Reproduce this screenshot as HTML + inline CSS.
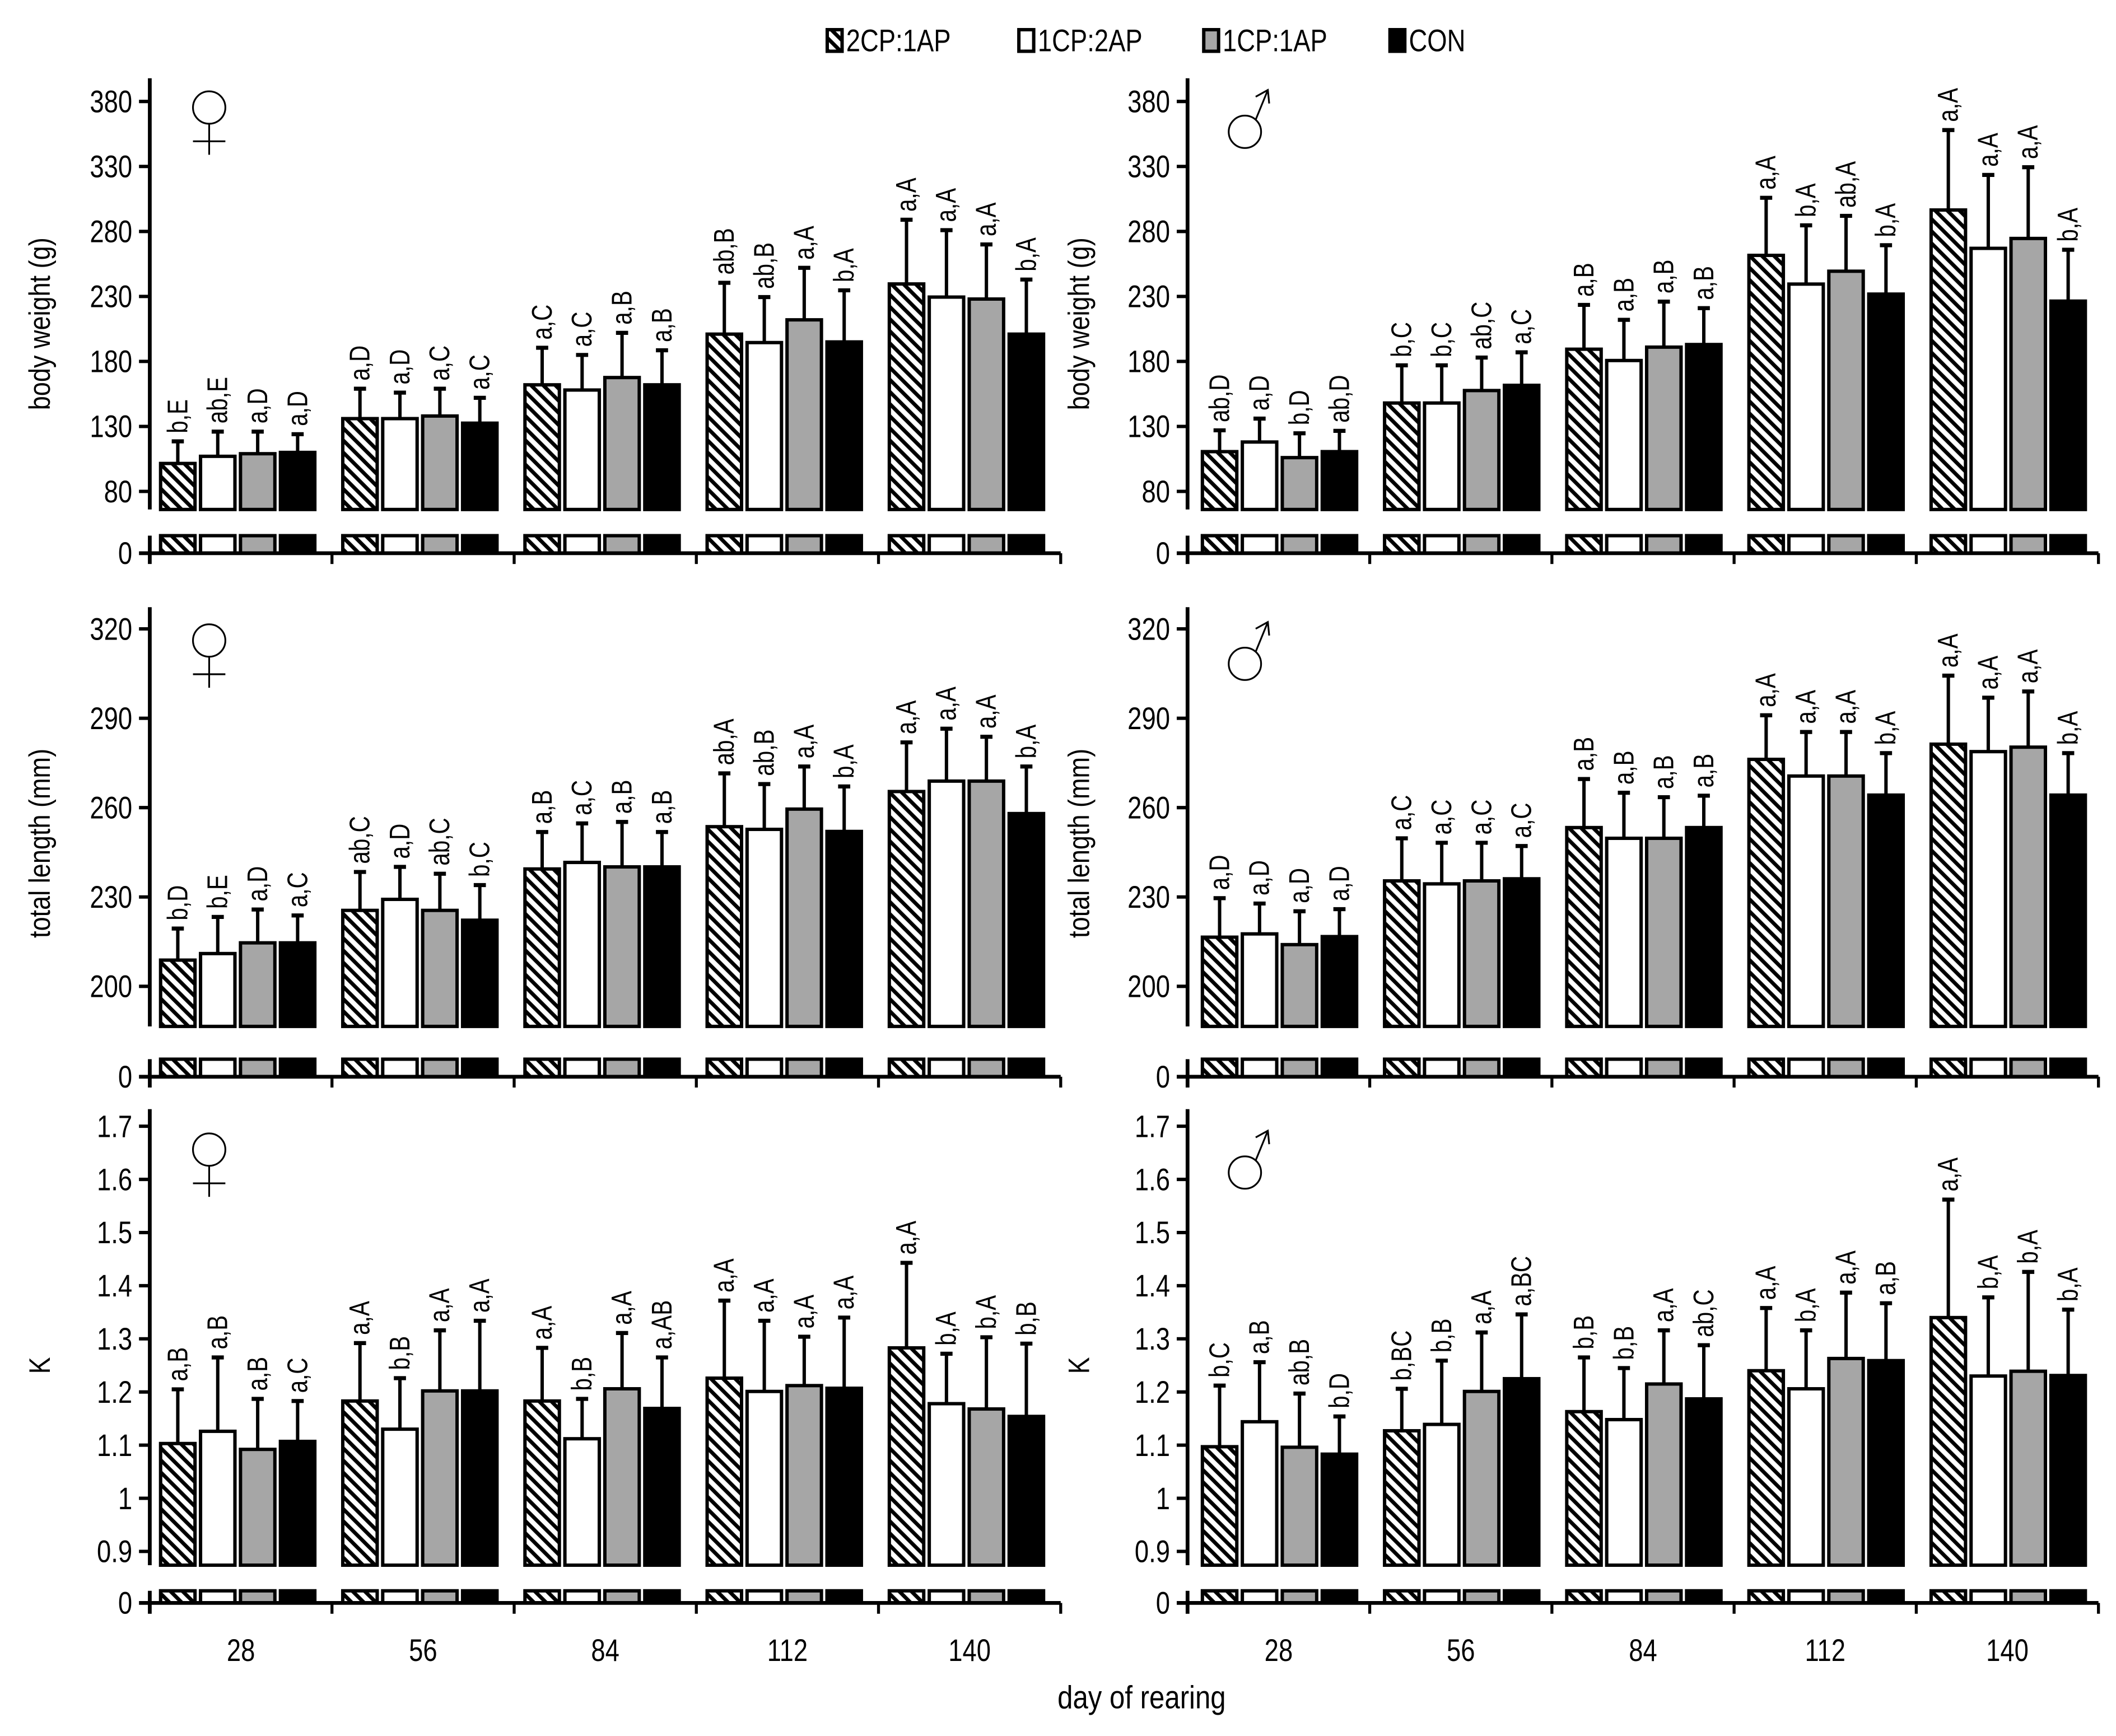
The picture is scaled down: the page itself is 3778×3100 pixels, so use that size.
<!DOCTYPE html>
<html><head><meta charset="utf-8"><title>Growth chart</title>
<style>
html,body{margin:0;padding:0;background:#fff;}
svg{display:block;}
text{font-family:"Liberation Sans",sans-serif;fill:#000;}
</style></head>
<body>
<svg id="chart" width="3778" height="3100" viewBox="0 0 1568 1286.6" preserveAspectRatio="none" xmlns="http://www.w3.org/2000/svg">
<defs>
<pattern id="hatch" patternUnits="userSpaceOnUse" width="9" height="9">
<rect width="9" height="9" fill="#fff"/>
<path d="M-3,-3 L12,12 M-3,6 L3,12 M6,-3 L12,3" stroke="#000" stroke-width="2.8"/>
</pattern>
</defs>
<g id="legend"></g>
<g id="plots"></g>
<text transform="translate(846,1266) scale(0.85,1)" font-size="24" text-anchor="middle">day of rearing</text>
</svg>
<script>
const groups=['28','56','84','112','140'];
const series=['2CP:1AP','1CP:2AP','1CP:1AP','CON'];

const bwF_mean=[[101.5,107,109,110],[136,136,138,132.5],[162,158,167.6,162],[201,194.5,212,195],[239.6,229.5,228,201]];
const bwF_sd=[[17,19,17,14],[23,20,21,19.5],[28.5,27,34.4,26.6],[39.5,35,40,39.7],[49.4,51.5,42,42]];
const bwF_lab=[['b,E','ab,E','a,D','a,D'],['a,D','a,D','a,C','a,C'],['a,C','a,C','a,B','a,B'],['ab,B','ab,B','a,A','b,A'],['a,A','a,A','a,A','b,A']];

const bwM_mean=[[110.6,118,106,110.6],[148,148,157.6,161.6],[189.4,180.7,191,193],[261.6,239.5,249.4,231.8],[296.5,267,274.6,226.4]];
const bwM_sd=[[16.4,18,18.7,16],[29,29,25.4,25.4],[34.1,31.3,35,28],[44.3,45.2,42.6,37.6],[61.5,56.5,54.8,39.5]];
const bwM_lab=[['ab,D','a,D','b,D','ab,D'],['b,C','b,C','ab,C','a,C'],['a,B','a,B','a,B','a,B'],['a,A','b,A','ab,A','b,A'],['a,A','a,A','a,A','b,A']];

const tlF_mean=[[208.8,211,214.6,214.6],[225.5,229.2,225.5,222.2],[239.4,241.6,240.1,240.1],[253.6,252.7,259.5,252],[265.4,268.9,268.9,258]];
const tlF_sd=[[10.6,12.3,11.2,9.2],[12.9,10.9,12.3,11.8],[12.4,13.1,15.1,11.7],[17.9,15.2,14.3,15.1],[16.5,17.6,14.9,15.8]];
const tlF_lab=[['b,D','b,E','a,D','a,C'],['ab,C','a,D','ab,C','b,C'],['a,B','a,C','a,B','a,B'],['ab,A','ab,B','a,A','b,A'],['a,A','a,A','a,A','b,A']];

const tlM_mean=[[216.5,217.6,214,216.7],[235.4,234.4,235.4,236.1],[253.3,249.7,249.7,253.3],[276.2,270.6,270.6,264.2],[281.3,278.8,280.3,264.2]];
const tlM_sd=[[13.1,10.2,11.2,9.2],[14.3,13.8,12.8,11],[16.3,15.3,13.8,10.7],[14.8,14.8,14.8,14.1],[23,18.1,18.7,14.1]];
const tlM_lab=[['a,D','a,D','a,D','a,D'],['a,C','a,C','a,C','a,C'],['a,B','a,B','a,B','a,B'],['a,A','a,A','a,A','b,A'],['a,A','a,A','a,A','b,A']];

const kF_mean=[[1.103,1.126,1.092,1.107],[1.183,1.130,1.202,1.202],[1.183,1.112,1.206,1.169],[1.226,1.201,1.212,1.207],[1.283,1.178,1.168,1.154]];
const kF_sd=[[0.102,0.139,0.095,0.076],[0.109,0.096,0.114,0.132],[0.100,0.075,0.105,0.096],[0.146,0.133,0.092,0.133],[0.160,0.094,0.135,0.137]];
const kF_lab=[['a,B','a,B','a,B','a,C'],['a,A','b,B','a,A','a,A'],['a,A','b,B','a,A','a,AB'],['a,A','a,A','a,A','a,A'],['a,A','b,A','b,A','b,B']];

const kM_mean=[[1.097,1.144,1.096,1.083],[1.127,1.139,1.201,1.225],[1.163,1.148,1.215,1.187],[1.240,1.206,1.263,1.259],[1.340,1.230,1.239,1.231]];
const kM_sd=[[0.115,0.112,0.101,0.071],[0.079,0.120,0.111,0.121],[0.102,0.097,0.101,0.101],[0.118,0.110,0.124,0.108],[0.222,0.148,0.187,0.124]];
const kM_lab=[['b,C','a,B','ab,B','b,D'],['b,BC','b,B','a,A','a,BC'],['b,B','b,B','a,A','ab,C'],['a,A','b,A','a,A','a,B'],['a,A','b,A','b,A','b,A']];

const bwTicks=[80,130,180,230,280,330,380];
const tlTicks=[200,230,260,290,320];
const kTicks=[0.9,1,1.1,1.2,1.3,1.4,1.5,1.6,1.7];

const NS='http://www.w3.org/2000/svg';
const plots=document.getElementById('plots');
function mk(tag,attrs,parent){const e=document.createElementNS(NS,tag);for(const k in attrs)e.setAttribute(k,attrs[k]);(parent||plots).appendChild(e);return e;}
const fills=['url(#hatch)','#ffffff','#a6a6a6','#000000'];
const SX=0.82;

const legG=document.getElementById('legend');
const legX=[613,755,892,1030];
series.forEach((s,i)=>{
  const r=mk('rect',{x:legX[i],y:22,width:11,height:16,fill:fills[i],stroke:'#000','stroke-width':2.5},legG);
  
  
  const t=mk('text',{'font-size':23,transform:'translate('+(legX[i]+14)+',38) scale('+SX+',1)'},legG);
  t.textContent=s;
  
  
});

const panels=[
 {name:'bw-female',ax:111,off:8,lo:80,hi:380,yLo:364.2,yHi:75.2,top:58,barBot:377.6,stubTop:397,zero:410,ticks:bwTicks,mean:bwF_mean,sd:bwF_sd,lab:bwF_lab,title:'body weight (g)',tx:30,ty:240,sex:'f',sy:79.7,fmt:v=>String(v)},
 {name:'bw-male',ax:880,off:11,lo:80,hi:380,yLo:364.2,yHi:75.2,top:58,barBot:377.6,stubTop:397,zero:410,ticks:bwTicks,mean:bwM_mean,sd:bwM_sd,lab:bwM_lab,title:'body weight (g)',tx:800,ty:240,sex:'m',sy:97.7,fmt:v=>String(v)},
 {name:'tl-female',ax:111,off:8,lo:200,hi:320,yLo:731,yHi:466.1,top:450,barBot:760.7,stubTop:785,zero:798,ticks:tlTicks,mean:tlF_mean,sd:tlF_sd,lab:tlF_lab,title:'total length (mm)',tx:30,ty:625,sex:'f',sy:474.7,fmt:v=>String(v)},
 {name:'tl-male',ax:880,off:11,lo:200,hi:320,yLo:731,yHi:466.1,top:450,barBot:760.7,stubTop:785,zero:798,ticks:tlTicks,mean:tlM_mean,sd:tlM_sd,lab:tlM_lab,title:'total length (mm)',tx:800,ty:625,sex:'m',sy:492,fmt:v=>String(v)},
 {name:'k-female',ax:111,off:8,lo:0.9,hi:1.7,yLo:1149.8,yHi:834.7,top:822,barBot:1160,stubTop:1179,zero:1188,ticks:kTicks,mean:kF_mean,sd:kF_sd,lab:kF_lab,title:'K',tx:30,ty:1012,sex:'f',sy:852,fmt:v=>String(+v.toFixed(1))},
 {name:'k-male',ax:880,off:11,lo:0.9,hi:1.7,yLo:1149.8,yHi:834.7,top:822,barBot:1160,stubTop:1179,zero:1188,ticks:kTicks,mean:kM_mean,sd:kM_sd,lab:kM_lab,title:'K',tx:800,ty:1012,sex:'m',sy:869,fmt:v=>String(+v.toFixed(1))}
];
const gw=135, bw=25.5, bstep=29.6;

panels.forEach(p=>{
  const g=mk('g',{});
  
  
  const y=v=>p.yLo+(v-p.lo)*(p.yHi-p.yLo)/(p.hi-p.lo);
  const xEnd=p.ax+gw*groups.length;
  groups.forEach((gl,gi)=>{
    series.forEach((s,si)=>{
      const x=p.ax+gi*gw+p.off+si*bstep;
      const m=p.mean[gi][si], sd=p.sd[gi][si];
      const yt=y(m), ye=y(m+sd), cx=x+bw/2;
      const eb=mk('line',{x1:cx,x2:cx,y1:yt,y2:ye,stroke:'#000','stroke-width':2.5},g);
      
      
      const cap=mk('line',{x1:cx-4.5,x2:cx+4.5,y1:ye,y2:ye,stroke:'#000','stroke-width':3},g);
      
      
      const r=mk('rect',{x:x,y:yt,width:bw,height:p.barBot-yt,fill:fills[si],stroke:'#000','stroke-width':2.5},g);
      
      
      const st=mk('rect',{x:x,y:p.stubTop,width:bw,height:p.zero-p.stubTop,fill:fills[si],stroke:'#000','stroke-width':2.5},g);
      
      
      const t=mk('text',{'font-size':21,transform:'translate('+(cx+7)+','+(ye-6)+') rotate(-90) scale(0.8,1)'},g);
      t.textContent=p.lab[gi][si];
      
      
    });
  });
  const ya=mk('line',{x1:p.ax,x2:p.ax,y1:p.top,y2:p.barBot,stroke:'#000','stroke-width':2.8},g);
  
  
  const ya2=mk('line',{x1:p.ax,x2:p.ax,y1:p.stubTop,y2:p.zero+8,stroke:'#000','stroke-width':2.8},g);
  
  
  const xa=mk('line',{x1:p.ax-8,x2:xEnd,y1:p.zero,y2:p.zero,stroke:'#000','stroke-width':2.8},g);
  
  
  for(let k=1;k<=groups.length;k++){
    const tk=mk('line',{x1:p.ax+k*gw,x2:p.ax+k*gw,y1:p.zero,y2:p.zero+8,stroke:'#000','stroke-width':2.2},g);
    
    
  }
  p.ticks.forEach(v=>{
    const yy=y(v);
    const tl=mk('line',{x1:p.ax-8,x2:p.ax,y1:yy,y2:yy,stroke:'#000','stroke-width':2.5},g);
    
    
    const tt=mk('text',{'font-size':23,'text-anchor':'end',transform:'translate('+(p.ax-13)+','+(yy+8)+') scale('+SX+',1)'},g);
    tt.textContent=p.fmt(v);
    
    
  });
  const z=mk('text',{'font-size':23,'text-anchor':'end',transform:'translate('+(p.ax-13)+','+(p.zero+8)+') scale('+SX+',1)'},g);
  z.textContent='0';
  
  
  const ti=mk('text',{'font-size':22,'text-anchor':'middle',transform:'translate('+(p.tx+7)+','+p.ty+') rotate(-90) scale(0.85,1)'},g);
  ti.textContent=p.title;
  
  
  const sg=mk('g',{fill:'none',stroke:'#000','stroke-width':1.3},g);
  
  
  if(p.sex==='f'){
    const cx=p.ax+44;
    mk('circle',{cx:cx,cy:p.sy,r:12},sg);
    mk('line',{x1:cx,x2:cx,y1:p.sy+12,y2:p.sy+35},sg);
    mk('line',{x1:cx-12,x2:cx+12,y1:p.sy+25,y2:p.sy+25},sg);
  }else{
    const cx=p.ax+42.5;
    mk('circle',{cx:cx,cy:p.sy,r:12},sg);
    mk('line',{x1:cx+8,x2:cx+17,y1:p.sy-9,y2:p.sy-31},sg);
    mk('polyline',{points:(cx+8)+','+(p.sy-26)+' '+(cx+17)+','+(p.sy-31)+' '+(cx+18)+','+(p.sy-21)},sg);
  }
  if(p.name.startsWith('k-')){
    groups.forEach((gl,gi)=>{
      const t=mk('text',{'font-size':23,'text-anchor':'middle',transform:'translate('+(p.ax+gi*gw+gw/2)+',1231) scale('+SX+',1)'},g);
      t.textContent=gl;
      
      
    });
  }
});
</script>
</body></html>
